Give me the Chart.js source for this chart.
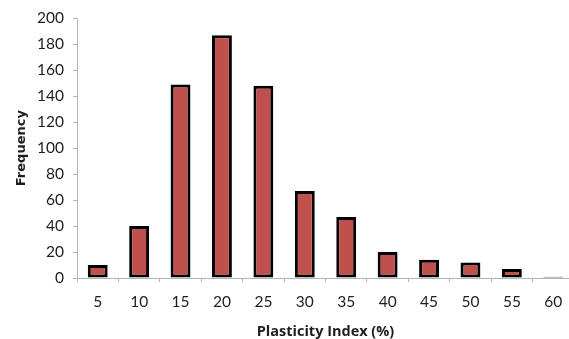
<!DOCTYPE html>
<html>
<head>
<meta charset="utf-8">
<script src="https://cdn.jsdelivr.net/npm/chart.js@4/dist/chart.umd.min.js"></script>
<style>
  html, body { margin: 0; padding: 0; background: #fff; overflow: hidden; }
  #wrap { width: 574px; height: 339px; }
</style>
</head>
<body>
<div id="wrap"><canvas id="piChart" width="574" height="339"></canvas></div>
<script>
// Plasticity index classes (%) and how many samples fall in each
const piClasses = ["5", "10", "15", "20", "25", "30", "35", "40", "45", "50", "55", "60"];
const frequency = [10, 40, 149, 187, 148, 67, 47, 20, 14, 12, 7, 1];
const yMin = 0;
const yMax = 200;
const yStep = 20;

const axisGray = "#b3b3b3";
const textColor = "#1e1e1e";

const ctx = document.getElementById("piChart").getContext("2d");
new Chart(ctx, {
  type: "bar",
  data: {
    labels: piClasses,
    datasets: [
      {
        label: "Frequency",
        data: frequency,
        backgroundColor: "#c0504d",
        borderColor: "#000000",
        borderWidth: 3,
        borderSkipped: false,
        barPercentage: 0.48,
        categoryPercentage: 1.0,
      },
    ],
  },
  options: {
    responsive: false,
    animation: false,
    devicePixelRatio: 1,
    layout: { padding: { top: 17, right: 0, bottom: 0, left: 0 } },
    plugins: {
      legend: { display: false },
      tooltip: { enabled: false },
    },
    scales: {
      x: {
        grid: {
          display: true,
          offset: true,
          drawOnChartArea: false,
          drawTicks: true,
          tickLength: 4,
          color: axisGray,
        },
        border: { display: true, color: axisGray, width: 1 },
        ticks: {
          color: textColor,
          padding: 11,
          font: { family: "Lato", size: 15.5 },
          maxRotation: 0,
        },
        title: {
          display: true,
          text: "Plasticity Index (%)",
          color: textColor,
          font: { family: "Open Sans", size: 14.5, weight: "bold", lineHeight: 1.0 },
          padding: { top: 0, bottom: 0 },
        },
        afterFit(scale) { scale.height = 61; },
      },
      y: {
        min: yMin,
        max: yMax,
        grid: {
          display: true,
          drawOnChartArea: false,
          drawTicks: true,
          tickLength: 4,
          color: axisGray,
        },
        border: { display: true, color: axisGray, width: 1 },
        ticks: {
          stepSize: yStep,
          color: textColor,
          padding: 9,
          font: { family: "Lato", size: 15.5 },
        },
        title: {
          display: true,
          text: "Frequency",
          color: textColor,
          font: { family: "DejaVu Sans", size: 13, weight: "bold", lineHeight: 1.0 },
          padding: { top: 15, bottom: 0 },
        },
        afterFit(scale) { scale.width = 77; },
      },
    },
  },
});
</script>
</body>
</html>
